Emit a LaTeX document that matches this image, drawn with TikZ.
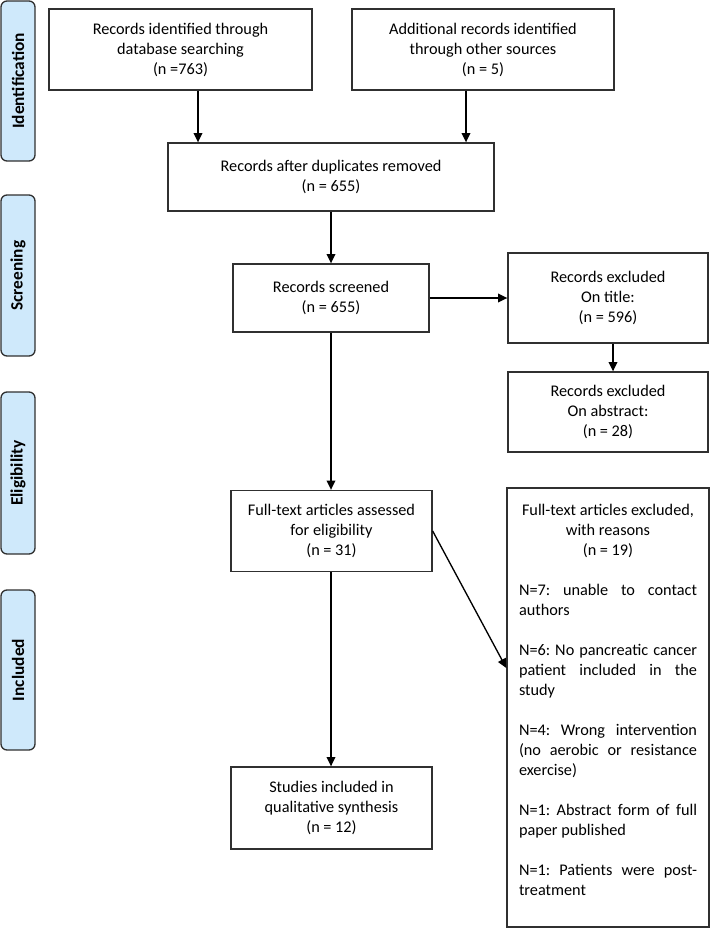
\documentclass[tikz,border=0pt]{standalone}
\usepackage{fontspec}
\setmainfont{Carlito}
\usetikzlibrary{arrows.meta}
\definecolor{barfill}{HTML}{CFE9FB}
\definecolor{edge}{HTML}{303030}
\frenchspacing
\begin{document}
\begin{tikzpicture}[x=0.75pt,y=-0.75pt,
  box/.style={draw=edge,line width=1pt,align=center,inner sep=0pt,
    font=\fontsize{12.2pt}{15pt}\selectfont},
  bar/.style={draw=edge,line width=1pt,fill=barfill,rounded corners=4.5pt,rotate=90,
    minimum height=25.5pt,inner sep=0pt,font=\fontsize{13pt}{15pt}\selectfont\bfseries},
  arr/.style={line width=1pt,-{Triangle[length=7pt,width=6.5pt]}}]
\useasboundingbox (0,0) rectangle (710,928);
% phase bars
\node[bar,minimum width=120pt] (pid) at (18,81) {Identification};
\node[bar,minimum width=120.75pt] (psc) at (18,275.5) {Screening};
\node[bar,minimum width=121.5pt] (pel) at (18,473) {Eligibility};
\node[bar,minimum width=120pt] (pin) at (18,670) {Included};
% boxes
\node[box,minimum width=197.25pt,minimum height=60.75pt] (b1) at (180.5,49.5)
  {Records identified through\\database searching\\(n =763)};
\node[box,minimum width=196.5pt,minimum height=60.75pt] (b2) at (483,49.5)
  {Additional records identified\\through other sources\\(n = 5)};
\node[box,minimum width=244.5pt,minimum height=51pt] (b3) at (331,177)
  {Records after duplicates removed\\(n = 655)};
\node[box,minimum width=147pt,minimum height=51pt] (b4) at (331,298)
  {Records screened\\(n = 655)};
\node[box,minimum width=150pt,minimum height=67.5pt] (b5) at (608,298)
  {Records excluded\\On title:\\(n = 596)};
\node[box,minimum width=150pt,minimum height=60pt] (b6) at (608,412)
  {Records excluded\\On abstract:\\(n = 28)};
\node[box,minimum width=150.75pt,minimum height=60.75pt] (b7) at (331.5,531)
  {Full-text articles assessed\\for eligibility\\(n = 31)};
\node[box,minimum width=150.75pt,minimum height=61.5pt] (b9) at (331.5,808)
  {Studies included in\\qualitative synthesis\\(n = 12)};
\node[box,minimum width=151.5pt,minimum height=329.25pt,text width=133.5pt,
  inner xsep=9pt,align=justify] (b8) at (608,707.5)
  {\hyphenpenalty=10000\tolerance=10000\frenchspacing
   {\centering Full-text articles excluded,\\ with reasons\\ (n = 19)\par}
   \vspace{15pt}
   N=7: unable to contact\linebreak authors\par
   \vspace{15pt}
   N=6: No pancreatic cancer\linebreak patient included in the\linebreak study\par
   \vspace{15pt}
   N=4: Wrong intervention\linebreak (no aerobic or resistance\linebreak exercise)\par
   \vspace{15pt}
   N=1: Abstract form of full\linebreak paper published\par
   \vspace{15pt}
   N=1: Patients were post-\linebreak treatment\par
   \vspace{12pt}\kern0pt};
% arrow columns
\coordinate (c1) at (198,0);
\coordinate (c2) at (466,0);
\coordinate (c3) at (613,0);
\draw[arr] (b1.south -| c1) -- (b3.north -| c1);
\draw[arr] (b2.south -| c2) -- (b3.north -| c2);
\draw[arr] (b3.south -| b4.north) -- (b4.north);
\draw[arr] (b4.east) -- (b5.west);
\draw[arr] (b5.south -| c3) -- (b6.north -| c3);
\draw[arr] (b4.south) -- (b7.north -| b4.south);
\draw[arr] (b7.south -| b4.south) -- (b9.north -| b4.south);
\draw[arr] (b7.east) -- ([yshift=29.6pt]b8.west);
\end{tikzpicture}
\end{document}
